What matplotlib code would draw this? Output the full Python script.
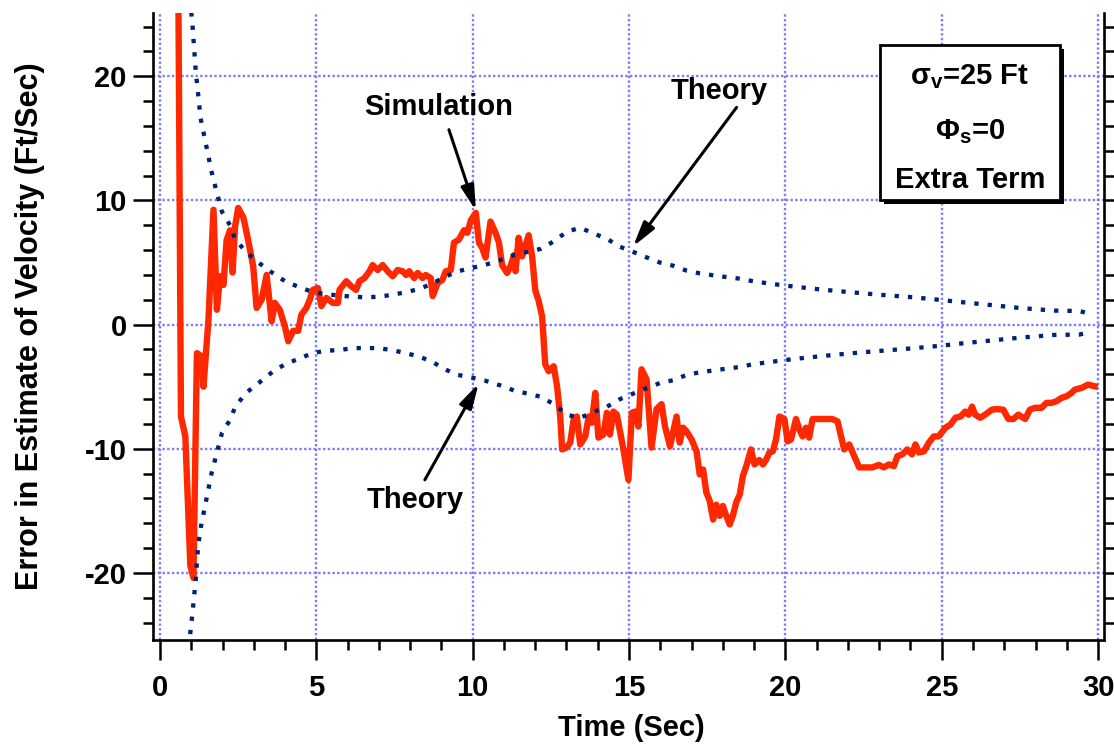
import matplotlib
matplotlib.use("Agg")
import matplotlib.pyplot as plt
from matplotlib.patches import Rectangle
from matplotlib.ticker import MultipleLocator

plt.rcParams['font.family'] = ['Liberation Sans', 'DejaVu Sans']
plt.rcParams['font.weight'] = 'bold'
plt.rcParams['mathtext.fontset'] = 'custom'
plt.rcParams['mathtext.rm'] = 'Liberation Sans:bold'
plt.rcParams['mathtext.bf'] = 'Liberation Sans:bold'
plt.rcParams['mathtext.it'] = 'Liberation Sans:bold'

# ---- data ----
sim_t = [
    0.58, 0.67, 0.81, 0.97, 1.07, 1.18, 1.34, 1.39, 1.55, 1.71,
    1.82, 1.92, 2.03, 2.13, 2.24, 2.32, 2.40, 2.50, 2.67, 2.82,
    2.98, 3.09, 3.25, 3.41, 3.57, 3.67, 3.83, 3.99, 4.10, 4.26,
    4.42, 4.52, 4.68, 4.79, 4.89, 5.05, 5.16, 5.32, 5.53, 5.69,
    5.74, 5.96, 6.11, 6.27, 6.38, 6.54, 6.70, 6.80, 6.96, 7.12,
    7.28, 7.44, 7.60, 7.76, 7.87, 7.97, 8.13, 8.24, 8.40, 8.50,
    8.66, 8.72, 8.88, 9.03, 9.14, 9.30, 9.40, 9.56, 9.72, 9.83,
    9.94, 10.10, 10.20, 10.30, 10.41, 10.57, 10.73, 10.84, 10.94, 11.10,
    11.21, 11.32, 11.37, 11.47, 11.58, 11.69, 11.79, 11.90, 12.00, 12.11,
    12.22, 12.32, 12.43, 12.59, 12.70, 12.80, 12.86, 13.00, 13.12, 13.23,
    13.33, 13.44, 13.60, 13.71, 13.81, 13.92, 14.02, 14.18, 14.29, 14.39,
    14.50, 14.61, 14.82, 14.98, 15.09, 15.19, 15.30, 15.40, 15.56, 15.72,
    15.88, 16.04, 16.15, 16.31, 16.52, 16.62, 16.73, 16.84, 17.00, 17.16,
    17.26, 17.37, 17.47, 17.58, 17.69, 17.79, 17.90, 18.00, 18.11, 18.22,
    18.32, 18.43, 18.54, 18.64, 18.75, 18.90, 19.01, 19.17, 19.28, 19.38,
    19.49, 19.60, 19.70, 19.81, 19.97, 20.07, 20.18, 20.34, 20.45, 20.55,
    20.66, 20.76, 20.87, 21.13, 21.50, 21.67, 21.88, 22.04, 22.36, 22.78,
    22.99, 23.15, 23.31, 23.47, 23.58, 23.74, 23.90, 24.05, 24.16, 24.27,
    24.43, 24.59, 24.75, 24.90, 25.12, 25.28, 25.44, 25.60, 25.75, 25.86,
    25.97, 26.07, 26.23, 26.39, 26.60, 26.76, 26.97, 27.13, 27.29, 27.45,
    27.67, 27.82, 27.98, 28.19, 28.35, 28.51, 28.67, 28.83, 28.99, 29.15,
    29.26, 29.47, 29.68, 29.89,
]
sim_err = [
    30.0, -7.4, -9.0, -19.4, -20.4, -2.3, -2.55, -5.0, 0.4, 9.25,
    1.2, 3.9, 3.2, 6.8, 7.6, 4.2, 7.9, 9.4, 8.6, 6.8,
    4.7, 1.34, 2.0, 4.0, 0.27, 1.75, 1.2, -0.1, -1.34, -0.5,
    -0.5, 0.8, 1.34, 2.0, 2.8, 2.95, 1.5, 2.15, 1.75, 1.75,
    2.8, 3.5, 3.1, 2.8, 3.5, 3.75, 4.3, 4.8, 4.4, 4.8,
    4.3, 3.9, 4.4, 4.3, 4.0, 4.3, 3.75, 4.16, 3.75, 4.0,
    3.75, 2.3, 3.35, 3.6, 4.3, 4.4, 6.6, 6.85, 7.6, 7.4,
    8.4, 9.0, 6.6, 6.2, 5.4, 8.3, 7.4, 6.6, 4.8, 4.16,
    4.7, 5.6, 4.3, 7.0, 5.5, 6.4, 7.2, 5.5, 2.8, 1.9,
    0.67, -3.2, -3.75, -3.35, -5.0, -7.4, -10.05, -9.9, -9.5, -7.6,
    -7.4, -9.65, -9.0, -7.4, -7.9, -5.5, -9.1, -8.85, -7.1, -8.85,
    -7.0, -7.25, -10.05, -12.5, -7.1, -7.0, -8.2, -3.6, -4.4, -9.9,
    -6.8, -6.4, -8.2, -9.8, -7.4, -9.5, -8.3, -8.6, -9.25, -10.2,
    -12.07, -11.67, -13.5, -14.2, -15.7, -14.5, -15.4, -14.6, -15.4, -16.1,
    -15.4, -14.3, -13.7, -12.2, -11.4, -10.05, -11.26, -10.9, -11.26, -10.9,
    -10.3, -10.2, -9.25, -7.4, -7.6, -9.4, -9.25, -7.6, -8.45, -9.0,
    -8.3, -9.1, -7.6, -7.6, -7.6, -7.8, -10.05, -9.65, -11.5, -11.5,
    -11.3, -11.5, -11.26, -11.4, -10.6, -10.45, -10.05, -10.45, -9.65, -10.3,
    -10.2, -9.5, -9.0, -9.0, -8.3, -8.05, -7.5, -7.4, -7.0, -7.25,
    -6.6, -7.25, -7.5, -7.25, -6.85, -6.8, -6.85, -7.6, -7.6, -7.25,
    -7.6, -6.85, -6.7, -6.7, -6.3, -6.3, -6.17, -5.9, -5.77, -5.5,
    -5.23, -5.1, -4.83, -4.96,
]

theory_up_t = [0.93, 1.04, 1.14, 1.30, 1.48, 1.65, 1.80, 1.98, 2.24, 2.40,
               2.75, 3.17, 3.60, 4.02, 4.45, 4.87, 5.30, 5.72, 6.15, 6.57,
               7.00, 7.42, 7.83, 8.26, 8.68, 9.11, 9.53, 9.96, 10.38, 10.89,
               11.32, 11.74, 12.17, 12.59, 13.02, 13.44, 13.86, 14.29, 14.71, 15.14,
               15.56, 15.99, 16.41, 16.84, 17.26, 17.90, 18.54, 18.96, 19.60, 20.30,
               21.10, 22.00, 23.00, 24.10, 25.00, 25.80, 26.65, 27.50, 28.60, 29.40,
               29.70]
theory_up = [27.0, 24.1, 20.5, 16.6, 14.4, 12.3, 10.8, 9.1, 8.0, 6.9,
             5.85, 4.96, 4.16, 3.46, 3.03, 2.63, 2.45, 2.35, 2.25, 2.2,
             2.25, 2.4, 2.6, 2.85, 3.27, 3.85, 4.3, 4.56, 4.8, 5.2,
             5.6, 5.85, 6.1, 6.7, 7.5, 7.8, 7.35, 6.92, 6.27, 5.85,
             5.42, 5.0, 4.75, 4.35, 4.13, 3.9, 3.7, 3.5, 3.27, 3.06,
             2.84, 2.63, 2.41, 2.2, 1.98, 1.77, 1.56, 1.34, 1.13, 1.1,
             0.9]

theory_lo_t = [0.93, 0.97, 1.04, 1.14, 1.22, 1.31, 1.48, 1.65, 1.80, 1.98,
               2.24, 2.41, 2.75, 3.17, 3.60, 4.02, 4.45, 4.87, 5.30, 5.72,
               6.15, 6.57, 7.00, 7.42, 7.83, 8.26, 8.68, 9.11, 9.53, 9.96,
               10.38, 10.89, 11.32, 11.74, 12.17, 12.59, 13.02, 13.44, 13.86, 14.29,
               14.71, 15.14, 15.56, 15.99, 16.41, 16.84, 17.26, 17.90, 18.54, 18.96,
               19.60, 20.30, 21.10, 22.00, 23.00, 24.10, 25.00, 25.80, 26.65, 27.50,
               28.60, 29.40, 29.70]
theory_lo = [-26.0, -24.8, -23.2, -20.6, -17.8, -16.25, -14.1, -11.96, -10.5, -8.74,
             -7.67, -6.6, -5.5, -4.67, -3.8, -3.16, -2.74, -2.3, -2.1, -2.05,
             -1.9, -1.88, -1.9, -2.05, -2.28, -2.55, -2.95, -3.6, -4.05, -4.26,
             -4.5, -4.9, -5.3, -5.55, -5.8, -6.4, -7.27, -7.5, -7.05, -6.62,
             -6.0, -5.55, -5.12, -4.7, -4.48, -4.05, -3.84, -3.62, -3.41, -3.19,
             -2.98, -2.76, -2.55, -2.33, -2.12, -1.9, -1.69, -1.47, -1.26, -1.05,
             -0.83, -0.8, -0.62]

x_ticks = [0, 5, 10, 15, 20, 25, 30]
y_ticks = [-20, -10, 0, 10, 20]

RED = '#ff2800'
NAVY = '#002378'
GRID = '#7b7bff'

W, H = 1114, 747
fig = plt.figure(figsize=(W / 100, H / 100), dpi=100)
ax = fig.add_axes([152.5 / W, (H - 640) / H, 951.5 / W, (640 - 13) / H])

ax.set_xlim(-0.24, 30.19)
ax.set_ylim(-25.4, 25.1)

ax.set_xticks(x_ticks)
ax.set_yticks(y_ticks)
ax.set_xticklabels([str(v) for v in x_ticks])
ax.set_yticklabels([str(v) for v in y_ticks])
ax.xaxis.set_minor_locator(MultipleLocator(1))
ax.yaxis.set_minor_locator(MultipleLocator(2))

ax.grid(True, which='major', color=GRID, linestyle=(0, (1, 1)), linewidth=1.7)
ax.set_axisbelow(True)

for s in ['left', 'bottom', 'right']:
    ax.spines[s].set_linewidth(1.9)
ax.spines['top'].set_visible(False)

ax.tick_params(axis='both', which='major', direction='out', length=14.5, width=1.8,
               labelsize=21)
ax.tick_params(axis='both', which='minor', direction='out', length=7, width=1.8)
ax.tick_params(axis='x', which='major', pad=10)
ax.tick_params(axis='y', which='major', pad=4)
ax.tick_params(axis='y', which='both', right=True, labelright=False)
ax.tick_params(axis='x', which='both', top=False)

ax.plot(sim_t, sim_err, color=RED, lw=4.6, solid_joinstyle='round', zorder=3)
ax.plot(theory_up_t, theory_up, color=NAVY, lw=3.1, linestyle=(0, (1, 2.1)),
        dash_capstyle='butt', zorder=4)
ax.plot(theory_lo_t, theory_lo, color=NAVY, lw=3.1, linestyle=(0, (1, 2.1)),
        dash_capstyle='butt', zorder=4)

arrow = dict(arrowstyle='-|>,head_length=0.75,head_width=0.2', color='black',
             lw=2.2, shrinkA=0, shrinkB=0, mutation_scale=20)
ax.annotate('', xy=(10.1, 9.2), xytext=(9.24, 15.7), arrowprops=arrow, zorder=6)
ax.annotate('', xy=(15.13, 6.3), xytext=(18.44, 17.5), arrowprops=arrow, zorder=6)
ax.annotate('', xy=(10.19, -4.75), xytext=(8.47, -12.5), arrowprops=arrow, zorder=6)

ax.text(8.92, 17.5, 'Simulation', fontsize=21, fontweight='bold', ha='center', va='center')
ax.text(17.87, 18.85, 'Theory', fontsize=21, fontweight='bold', ha='center', va='center')
ax.text(8.15, -14.1, 'Theory', fontsize=21, fontweight='bold', ha='center', va='center')

# annotation box with shadow
bx0, by0, bx1, by1 = 880, 45, 1060, 200
shadow = Rectangle(((bx0 + 4) / W, (H - by1 - 4) / H), (bx1 - bx0) / W, (by1 - by0) / H,
                   transform=fig.transFigure, facecolor='black', edgecolor='black',
                   lw=0, zorder=10)
box = Rectangle((bx0 / W, (H - by1) / H), (bx1 - bx0) / W, (by1 - by0) / H,
                transform=fig.transFigure, facecolor='white', edgecolor='black',
                lw=2.0, zorder=11)
fig.patches.extend([shadow, box])
cx = 970 / W
fig.text(cx, 1 - 77 / H, r'$\mathbf{σ_v}$=25 Ft', fontsize=21, fontweight='bold',
         ha='center', va='center', zorder=12)
fig.text(cx, 1 - 132 / H, r'$\mathbf{Φ_s}$=0', fontsize=21, fontweight='bold',
         ha='center', va='center', zorder=12)
fig.text(cx, 1 - 180 / H, 'Extra Term', fontsize=21, fontweight='bold',
         ha='center', va='center', zorder=12)

fig.text(30 / W, 1 - 326 / H, 'Error in Estimate of Velocity (Ft/Sec)', fontsize=22,
         fontweight='bold', rotation=90, ha='center', va='center')
fig.text(631 / W, 1 - 728 / H, 'Time (Sec)', fontsize=21, fontweight='bold',
         ha='center', va='center')

fig.savefig('out.png', dpi=100)
